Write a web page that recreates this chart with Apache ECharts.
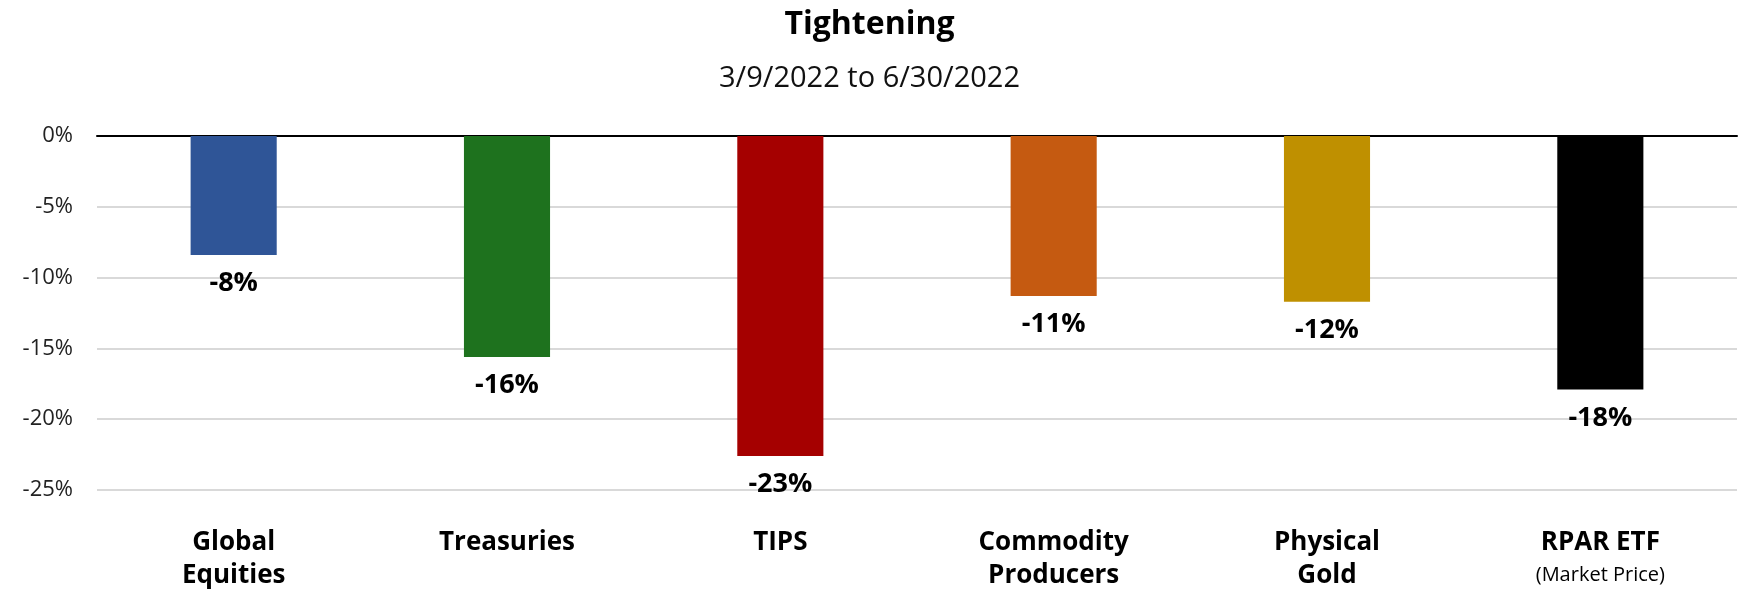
<!DOCTYPE html>
<html>
<head>
<meta charset="utf-8">
<script src="https://cdn.jsdelivr.net/npm/echarts@6/dist/echarts.min.js"></script>
<style>
  html, body { margin: 0; padding: 0; background: #fff; }
  #chart { width: 1739px; height: 589px; }
</style>
</head>
<body>
<div id="chart"></div>
<script>
const categories = ['Global\nEquities', 'Treasuries', 'TIPS', 'Commodity\nProducers', 'Physical\nGold', 'RPAR ETF\n{sub|(Market Price)}'];
const returns = [-8.4, -15.6, -22.6, -11.3, -11.7, -17.9];
const barColors = ['#2F5597', '#1E721E', '#A50000', '#C55A11', '#BF9000', '#000000'];
const yTicks = { min: -25, max: 0, step: 5 };

const font = '"Open Sans", Lato, sans-serif';
const chart = echarts.init(document.getElementById('chart'));

chart.setOption({
  backgroundColor: '#fff',
  animation: false,
  title: {
    text: 'Tightening',
    subtext: '3/9/2022 to 6/30/2022',
    left: 'center',
    top: 4,
    itemGap: 23,
    textStyle: { fontFamily: font, fontSize: 32, fontWeight: 'bold', color: '#000' },
    subtextStyle: { fontFamily: font, fontSize: 29, color: '#111' }
  },
  grid: { left: 97, right: 2, top: 136, bottom: 99, containLabel: false, outerBoundsMode: 'none' },
  xAxis: [
    {
      type: 'category',
      position: 'top',
      data: categories,
      axisLine: { lineStyle: { color: '#000', width: 2 } },
      axisTick: { show: false },
      axisLabel: { show: false }
    },
    {
      type: 'category',
      position: 'bottom',
      data: categories,
      axisLine: { show: false },
      axisTick: { show: false },
      axisLabel: {
        interval: 0,
        margin: 36,
        fontFamily: font,
        fontSize: 26,
        fontWeight: 'bold',
        color: '#000',
        lineHeight: 33,
        rich: {
          sub: { fontFamily: font, fontSize: 20, fontWeight: 'normal', color: '#000', lineHeight: 33 }
        }
      }
    }
  ],
  yAxis: {
    type: 'value',
    min: yTicks.min,
    max: yTicks.max,
    interval: yTicks.step,
    axisLine: { show: false },
    axisTick: { show: false },
    axisLabel: {
      margin: 24,
      fontFamily: font,
      fontSize: 22,
      color: '#222',
      formatter: v => v + '%'
    },
    splitLine: { lineStyle: { color: '#d9d9d9', width: 2 } }
  },
  series: [
    {
      type: 'bar',
      xAxisIndex: 0,
      barWidth: '31.5%',
      data: returns.map((v, i) => ({ value: v, itemStyle: { color: barColors[i] } })),
      label: {
        show: true,
        position: 'bottom',
        distance: 15,
        fontFamily: font,
        fontSize: 27,
        fontWeight: 'bold',
        color: '#000',
        formatter: p => Math.round(p.value) + '%'
      }
    }
  ]
});
</script>
</body>
</html>
